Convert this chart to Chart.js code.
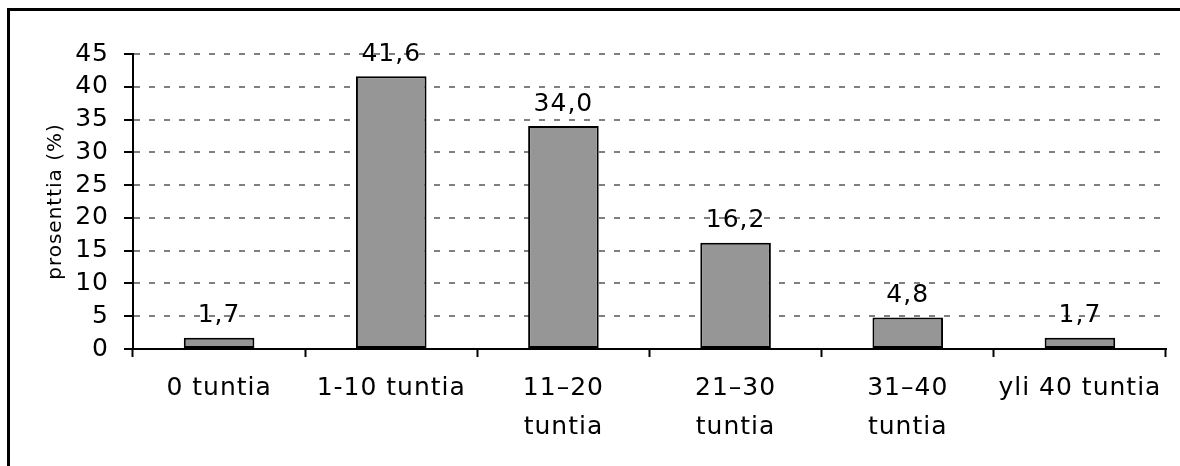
<!DOCTYPE html>
<html>
<head>
<meta charset="utf-8">
<script src="https://cdn.jsdelivr.net/npm/chart.js@4/dist/chart.umd.min.js"></script>
<style>
  html, body { margin: 0; padding: 0; background: #fff; overflow: hidden; }
  #frame {
    position: absolute; left: 7px; top: 8px;
    width: 1300px; height: 600px;
    border: 3px solid #000;
  }
  #wrap { position: absolute; left: 0; top: 0; width: 1180px; height: 466px; }
</style>
</head>
<body>
<div id="frame"></div>
<div id="wrap"><canvas id="barChart"></canvas></div>
<script>
const categories = ['0 tuntia', '1-10 tuntia', ['11–20', 'tuntia'], ['21–30', 'tuntia'], ['31–40', 'tuntia'], 'yli 40 tuntia'];
const percentages = [1.7, 41.6, 34.0, 16.2, 4.8, 1.7];
const yTicks = [0, 5, 10, 15, 20, 25, 30, 35, 40, 45];

const FONT = "'DejaVu Sans', sans-serif";

// wider letters like the original, and value labels above the bars
const textLook = {
  id: 'textLook',
  beforeUpdate(chart) { chart.ctx.letterSpacing = '1px'; },
  beforeDraw(chart) { chart.ctx.letterSpacing = '1px'; },
  afterDatasetsDraw(chart) {
    const ctx = chart.ctx;
    const meta = chart.getDatasetMeta(0);
    ctx.save();
    ctx.letterSpacing = '1px';
    ctx.font = '25px ' + FONT;
    ctx.fillStyle = '#000';
    ctx.textAlign = 'center';
    ctx.textBaseline = 'middle';
    meta.data.forEach((bar, i) => {
      const txt = percentages[i].toFixed(1).replace('.', ',');
      ctx.fillText(txt, bar.x, bar.y - 22);
    });
    ctx.restore();
  }
};

const ctx = document.getElementById('barChart');

new Chart(ctx, {
  type: 'bar',
  data: {
    labels: categories,
    datasets: [{
      data: percentages,
      backgroundColor: '#969696',
      borderColor: '#000',
      borderWidth: 2,
      borderSkipped: false,
      barPercentage: 0.41,
      categoryPercentage: 1
    }]
  },
  options: {
    responsive: true,
    maintainAspectRatio: false,
    animation: false,
    layout: { padding: { left: 40, top: 54, right: 14, bottom: 0 } },
    plugins: {
      legend: { display: false },
      tooltip: { enabled: false }
    },
    scales: {
      x: {
        grid: {
          offset: true,
          drawOnChartArea: false,
          tickLength: 8,
          tickColor: '#000',
          tickWidth: 2
        },
        border: { color: '#000', width: 2 },
        ticks: {
          color: '#000',
          font: { family: FONT, size: 25, lineHeight: 1.55 },
          padding: 12,
          maxRotation: 0,
          autoSkip: false
        },
        afterFit(scale) { scale.height = 117; }
      },
      y: {
        min: 0,
        max: 45,
        afterBuildTicks(scale) { scale.ticks = yTicks.map(v => ({ value: v })); },
        grid: {
          color: (c) => c.tick && c.tick.value === 0 ? 'rgba(0,0,0,0)' : '#808080',
          lineWidth: 2,
          tickLength: 9,
          tickColor: '#000',
          tickWidth: 2,
          tickBorderDash: []
        },
        border: { color: '#000', width: 2, dash: [6, 9] },
        ticks: {
          color: '#000',
          font: { family: FONT, size: 25 },
          padding: 15,
          autoSkip: false
        },
        title: {
          display: true,
          text: 'prosenttia (%)',
          color: '#000',
          font: { family: FONT, size: 20 },
          padding: { top: 4, bottom: 4 }
        },
        afterFit(scale) { scale.width = 93; }
      }
    }
  },
  plugins: [textLook]
});
</script>
</body>
</html>
